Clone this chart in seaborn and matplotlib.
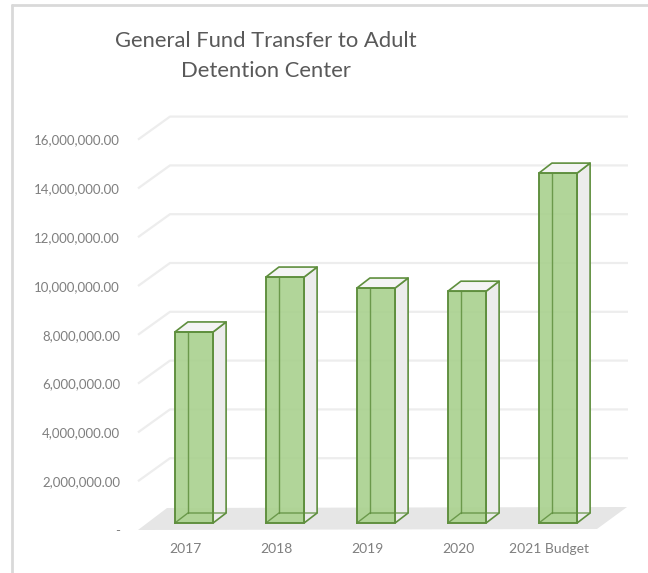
import matplotlib
matplotlib.use("Agg")
import matplotlib.pyplot as plt
import matplotlib.transforms as mtransforms
from matplotlib.patches import Polygon
import seaborn as sns
import pandas as pd

# ---- data -------------------------------------------------------------
categories = ["2017", "2018", "2019", "2020", "2021 Budget"]
transfers = [7_830_000, 10_080_000, 9_630_000, 9_500_000, 14_340_000]
tick_values = [0, 2_000_000, 4_000_000, 6_000_000, 8_000_000,
               10_000_000, 12_000_000, 14_000_000, 16_000_000]
tick_labels = ["-"] + [f"{v:,.2f}" for v in tick_values[1:]]
title = "General Fund Transfer to Adult\nDetention Center"

# ---- style ------------------------------------------------------------
sns.set_theme(style="white")
plt.rcParams["font.family"] = ["Lato", "DejaVu Sans"]

FACE = "#a9d18e"
EDGE = "#5f8f3e"
SIDE = "#ececec"
TOP = "#f4f4f4"
GRID = "#ededed"
FLOOR = "#e6e6e6"
TEXT = "#7f7f7f"

W, H, DPI = 648, 573, 100
fig = plt.figure(figsize=(W / DPI, H / DPI), dpi=DPI)
fig.patch.set_facecolor("white")

# pixel geometry of the plotting box
X0_PX, STEP_PX = 194, 91          # first category centre / category spacing
Y0_PX, PX_PER_UNIT = 523, 24.4e-6  # zero line / pixels per currency unit
ax_left, ax_right, ax_top, ax_bot = 126, 640, 100, 535
ax = fig.add_axes([ax_left / W, 1 - ax_bot / H,
                   (ax_right - ax_left) / W, (ax_bot - ax_top) / H])


def dx(px):
    return px / STEP_PX


def dy(px):
    return px / PX_PER_UNIT


# ---- bars -------------------------------------------------------------
df = pd.DataFrame({"year": categories, "transfer": transfers})
bar_w = 0.42
depth_x, depth_y = dx(13), dy(10)

sns.barplot(data=df, x="year", y="transfer", ax=ax, width=bar_w,
            color=FACE, edgecolor=EDGE, linewidth=1.2, saturation=1,
            alpha=0.9)
for bar in ax.patches:
    bar.set_zorder(3)

ax.set_xlim((ax_left - X0_PX) / STEP_PX, (ax_right - X0_PX) / STEP_PX)
ax.set_ylim((Y0_PX - ax_bot) / PX_PER_UNIT, (Y0_PX - ax_top) / PX_PER_UNIT)

# ---- back wall gridlines with their slanted side-wall run --------------
front_x, back_x, right_x = dx(138 - X0_PX), dx(170 - X0_PX), dx(628 - X0_PX)
front_shift, back_shift = dy(-7), dy(16)
for v in tick_values[1:]:
    ax.plot([front_x, back_x, right_x],
            [v + front_shift, v + back_shift, v + back_shift],
            color=GRID, lw=1.6, zorder=1, solid_capstyle="butt")

# ---- floor ------------------------------------------------------------
floor = Polygon([(dx(138 - X0_PX), dy(-7)), (dx(597 - X0_PX), dy(-6)),
                 (dx(627 - X0_PX), dy(16)), (dx(167 - X0_PX), dy(15))],
                closed=True, facecolor=FLOOR, edgecolor="none", zorder=1.5)
ax.add_patch(floor)

for i, v in enumerate(transfers):
    xr = i + bar_w / 2
    xl = i - bar_w / 2
    side = Polygon([(xr, 0), (xr + depth_x, depth_y),
                    (xr + depth_x, v + depth_y), (xr, v)],
                   closed=True, facecolor=SIDE, edgecolor=EDGE,
                   lw=1.2, zorder=2.5, joinstyle="round")
    top = Polygon([(xl, v), (xr, v), (xr + depth_x, v + depth_y),
                   (xl + depth_x, v + depth_y)],
                  closed=True, facecolor=TOP, edgecolor=EDGE,
                  lw=1.2, zorder=4, joinstyle="round")
    ax.add_patch(side)
    ax.add_patch(top)
    # hidden back edges, seen through the translucent front face
    xb = xl + depth_x
    ax.plot([xb, xb], [depth_y, v + depth_y], color=EDGE, lw=1.0,
            alpha=0.85, zorder=3.5)
    ax.plot([xl, xb, xr + depth_x], [0, depth_y, depth_y], color=EDGE,
            lw=1.0, alpha=0.85, zorder=3.5)
    # front edges redrawn crisply on top
    ax.plot([xl, xl, xr, xr, xl], [0, v, v, 0, 0], color=EDGE, lw=1.2,
            zorder=5)

# ---- axes text ----------------------------------------------------------
ax.set_yticks(tick_values)
ax.set_yticklabels(tick_labels)
ax.set_xlabel("")
ax.set_ylabel("")
ax.tick_params(axis="y", length=0, pad=4.3, labelsize=9.5, labelcolor=TEXT)
ax.tick_params(axis="x", length=0, pad=5.5, labelsize=10, labelcolor=TEXT)
shift_y = mtransforms.ScaledTranslation(0, -7 / DPI, fig.dpi_scale_trans)
for lab in ax.get_yticklabels():
    lab.set_transform(lab.get_transform() + shift_y)
shift_x = mtransforms.ScaledTranslation(-9 / DPI, 0, fig.dpi_scale_trans)
for lab in ax.get_xticklabels():
    lab.set_transform(lab.get_transform() + shift_x)
for s in ax.spines.values():
    s.set_visible(False)
ax.set_facecolor("none")

fig.text(266 / W, 1 - 56 / H, title, ha="center", va="center",
         fontsize=15.8, color="#595959", linespacing=1.68)

# chart frame
fig.add_artist(plt.Line2D([11.5 / W, 11.5 / W], [0, 1 - 5 / H],
                          transform=fig.transFigure, color="#d9d9d9", lw=2))
fig.add_artist(plt.Line2D([11.5 / W, 1], [1 - 5 / H, 1 - 5 / H],
                          transform=fig.transFigure, color="#d9d9d9", lw=2))

fig.savefig("out.png", dpi=DPI)
